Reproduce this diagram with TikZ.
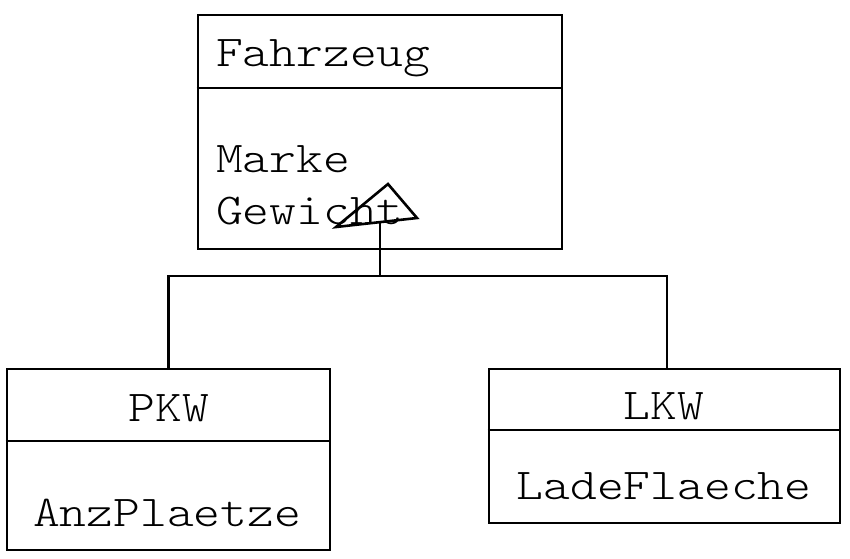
\documentclass[tikz,border=0pt]{standalone}
\usepackage{fontspec}
\newfontfamily\courfont[FakeStretch=1.16]{Latin Modern Mono Light}
\begin{document}
\begin{tikzpicture}[x=1pt,y=-1pt,
  box/.style={draw,line width=2.6pt,rectangle,inner sep=0pt},
  lbl/.style={inner sep=0pt,font=\fontsize{44}{50}\selectfont\courfont},
  conn/.style={line width=2.6pt,line join=miter}]
\useasboundingbox (0,0) rectangle (850,558);
% boxes
\node[box,minimum width=364pt,minimum height=234pt] (fz) at (380,132) {};
\node[box,minimum width=323pt,minimum height=181pt] (pkw) at (168.5,459.5) {};
\node[box,minimum width=351pt,minimum height=154pt] (lkw) at (664.5,446) {};
% dividers
\coordinate (fzd) at (0,88);
\coordinate (pkwd) at (0,441);
\coordinate (lkwd) at (0,430);
\draw[conn] (fz.west |- fzd) -- (fz.east |- fzd);
\draw[conn] (pkw.west |- pkwd) -- (pkw.east |- pkwd);
\draw[conn] (lkw.west |- lkwd) -- (lkw.east |- lkwd);
% texts
\node[lbl,anchor=base west] (t1) at (216,66) {Fahrzeug};
\node[lbl,anchor=base west] (t2) at (216,172) {Marke};
\node[lbl,anchor=base west] (t3) at (216,224) {Gewicht};
\node[lbl,anchor=base] (t4) at (169,421) {PKW};
\node[lbl,anchor=base] (t5) at (167,526) {AnzPlaetze};
\node[lbl,anchor=base] (t6) at (664,419) {LKW};
\node[lbl,anchor=base] (t7) at (664,499) {LadeFlaeche};
% generalization
\coordinate (ta) at (388,184);
\coordinate (tr) at (417,218);
\coordinate (tl) at (336,227);
\coordinate (tb) at (380,222.5);
\coordinate (jn) at (380,276);
\coordinate (lk) at (667,369);
\draw[conn] (ta) -- (tr) -- (tl) -- cycle;
\draw[conn] (tb) -- (jn);
\draw[conn] (pkw.north) |- (jn) -| (lk);
\end{tikzpicture}
\end{document}
